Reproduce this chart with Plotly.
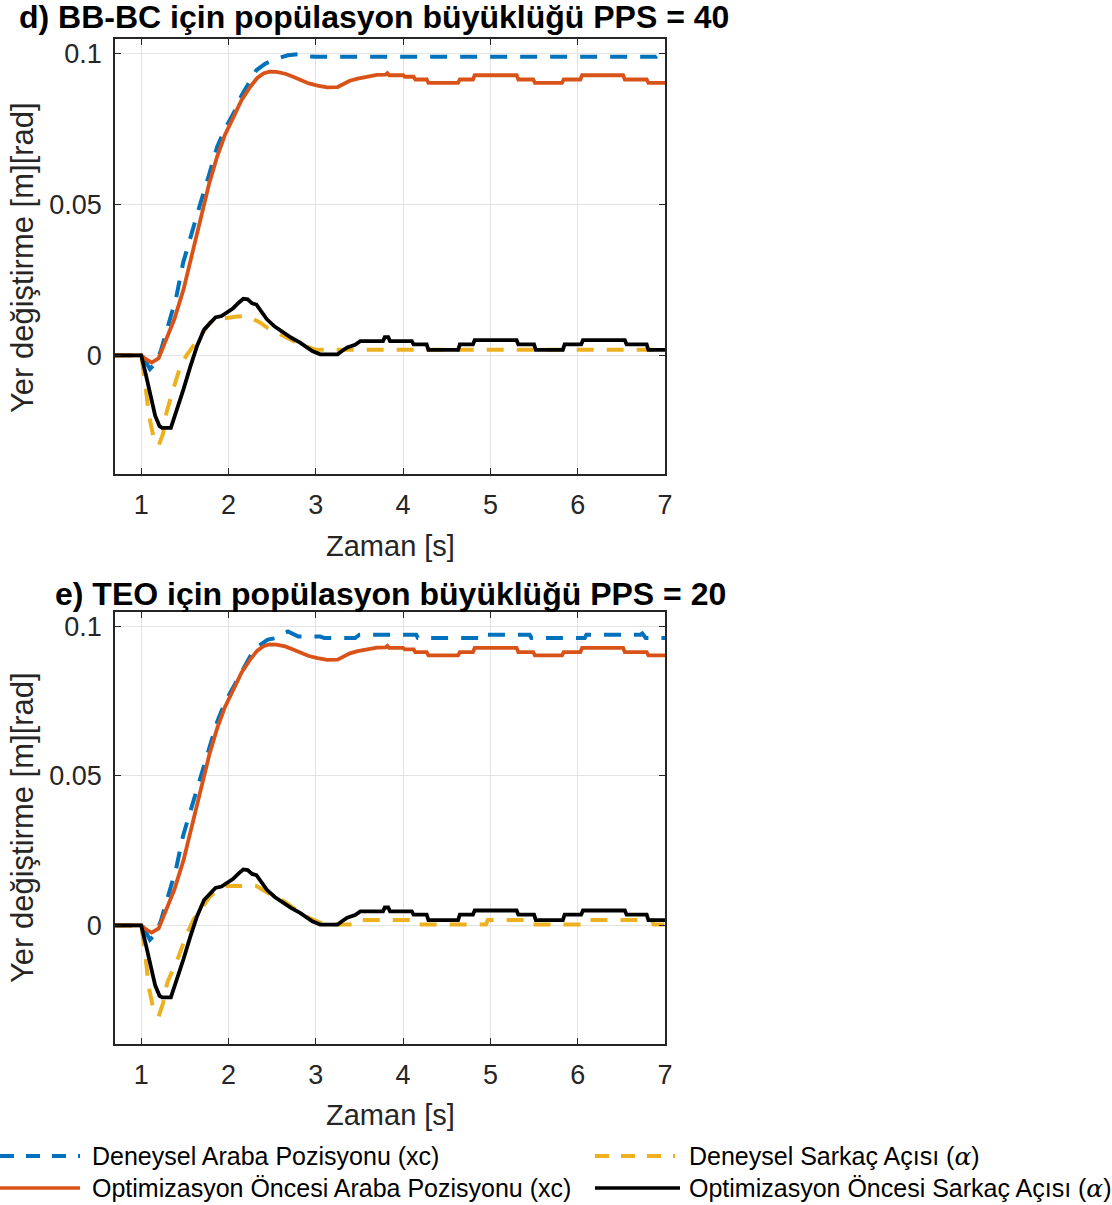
import plotly.graph_objects as go

# ---------------- data ----------------
x_ticks = [1, 2, 3, 4, 5, 6, 7]
y_ticks = [0, 0.05, 0.1]
y_tick_text = ["0", "0.05", "0.1"]

# Optimizasyon Öncesi Araba Pozisyonu (xc) - same in both panels
t_opt_cart = [0.7, 1.0, 1.05, 1.12, 1.2, 1.29, 1.38, 1.485, 1.58, 1.68, 1.78, 1.87, 1.96, 2.06, 2.15,
              2.25, 2.33, 2.40, 2.47, 2.55, 2.65, 2.74, 2.83, 2.92, 3.02, 3.13, 3.25, 3.32, 3.39, 3.48,
              3.58, 3.70, 3.80, 3.82, 3.84, 4.0, 4.02, 4.12, 4.14, 4.27, 4.29, 4.63, 4.65, 4.80, 4.82,
              5.30, 5.32, 5.49, 5.51, 5.82, 5.84, 6.03, 6.05, 6.52, 6.54, 6.79, 6.81, 7.0]
v_opt_cart = [0.0, 0.0, -0.0012, -0.0024, -0.001, 0.0053, 0.012, 0.0218, 0.033, 0.046, 0.057, 0.0658,
              0.073, 0.079, 0.0845, 0.0889, 0.0918, 0.0933, 0.0939, 0.0938, 0.0932, 0.0922, 0.0912,
              0.0900, 0.0893, 0.0887, 0.0888, 0.0898, 0.0909, 0.0916, 0.0922, 0.0928, 0.0929, 0.0934,
              0.0927, 0.0927, 0.0922, 0.0922, 0.0913, 0.0913, 0.0902, 0.0902, 0.0913, 0.0913, 0.0927,
              0.0927, 0.0913, 0.0913, 0.0902, 0.0902, 0.0913, 0.0913, 0.0927, 0.0927, 0.0913, 0.0913,
              0.0902, 0.0902]

# Optimizasyon Öncesi Sarkaç Açısı (alpha) - same in both panels
t_opt_pend = [0.7, 1.0, 1.05, 1.1, 1.16, 1.21, 1.24, 1.34, 1.40, 1.485, 1.56, 1.64, 1.72, 1.79, 1.85,
              1.92, 1.98, 2.05, 2.12, 2.17, 2.22, 2.27, 2.32, 2.38, 2.44, 2.53, 2.63, 2.72, 2.82, 2.89,
              2.96, 3.05, 3.25, 3.30, 3.36, 3.45, 3.51, 3.77, 3.79, 3.83, 3.85, 4.10, 4.12, 4.27, 4.29,
              4.63, 4.65, 4.80, 4.82, 5.30, 5.32, 5.50, 5.52, 5.83, 5.85, 6.04, 6.06, 6.54, 6.56, 6.79,
              6.81, 7.0]
v_opt_pend = [0.0, 0.0, -0.006, -0.013, -0.020, -0.0235, -0.024, -0.024, -0.019, -0.0112, -0.004,
              0.0031, 0.0085, 0.0108, 0.0125, 0.013, 0.0141, 0.0155, 0.0175, 0.0187, 0.0185, 0.0172,
              0.0168, 0.0145, 0.0119, 0.0095, 0.0075, 0.0058, 0.0042, 0.0028, 0.0014, 0.0003, 0.0003,
              0.0014, 0.0026, 0.0035, 0.0047, 0.0047, 0.0060, 0.0060, 0.0047, 0.0047, 0.0036, 0.0036,
              0.0018, 0.0018, 0.0036, 0.0036, 0.005, 0.005, 0.0036, 0.0036, 0.0018, 0.0018, 0.0036,
              0.0036, 0.005, 0.005, 0.0036, 0.0036, 0.0018, 0.0018]

# d) BB-BC : Deneysel Araba Pozisyonu (xc)
t_bbbc_cart = [0.7, 1.0, 1.05, 1.10, 1.15, 1.22, 1.30, 1.40, 1.48, 1.58, 1.68, 1.78, 1.87, 1.96, 2.06,
               2.15, 2.25, 2.32, 2.42, 2.55, 2.68, 2.82, 2.90, 3.0, 6.9, 6.95, 7.0]
v_bbbc_cart = [0.0, 0.0, -0.002, -0.0046, -0.003, 0.001, 0.009, 0.019, 0.0306, 0.041, 0.0505, 0.060,
               0.069, 0.075, 0.0802, 0.086, 0.091, 0.0944, 0.0965, 0.0982, 0.0993, 0.0997, 0.0990,
               0.0988, 0.0988, 0.0997, 0.0997]

# d) BB-BC : Deneysel Sarkaç Açısı (alpha)
t_bbbc_pend = [0.7, 1.0, 1.04, 1.09, 1.14, 1.20, 1.25, 1.29, 1.37, 1.45, 1.52, 1.60, 1.70, 1.79, 1.88,
               1.98, 2.1, 2.21, 2.28, 2.36, 2.45, 2.55, 2.65, 2.74, 2.83, 2.92, 3.0, 7.0]
v_bbbc_pend = [0.0, 0.0, -0.008, -0.020, -0.027, -0.0299, -0.026, -0.0189, -0.011, -0.0035, 0.0,
               0.0031, 0.007, 0.0109, 0.012, 0.0125, 0.0128, 0.013, 0.012, 0.0109, 0.009, 0.0076,
               0.006, 0.0047, 0.0035, 0.0026, 0.0018, 0.0018]

# e) TEO : Deneysel Araba Pozisyonu (xc)
t_teo_cart = [0.7, 1.0, 1.05, 1.10, 1.15, 1.22, 1.30, 1.40, 1.48, 1.58, 1.68, 1.78, 1.87, 1.96, 2.06,
              2.15, 2.25, 2.35, 2.45, 2.55, 2.62, 2.68, 2.74, 2.80, 3.05, 3.10, 3.45, 3.50, 4.15, 4.17,
              4.86, 4.88, 4.95, 5.45, 5.47, 6.08, 6.10, 6.72, 6.74, 6.78, 7.0]
v_teo_cart = [0.0, 0.0, -0.002, -0.0048, -0.0032, 0.001, 0.009, 0.019, 0.030, 0.040, 0.050, 0.059,
              0.068, 0.0745, 0.080, 0.085, 0.090, 0.0935, 0.0955, 0.096, 0.0975, 0.0982, 0.0975,
              0.0965, 0.0965, 0.096, 0.096, 0.0971, 0.0971, 0.096, 0.096, 0.0975, 0.0971, 0.0971,
              0.096, 0.096, 0.0971, 0.0971, 0.0975, 0.096, 0.096]

# e) TEO : Deneysel Sarkaç Açısı (alpha)
t_teo_pend = [0.7, 1.0, 1.04, 1.09, 1.14, 1.20, 1.25, 1.30, 1.36, 1.43, 1.52, 1.60, 1.70, 1.79, 1.88,
              1.98, 2.32, 2.44, 2.53, 2.63, 2.72, 2.82, 2.92, 3.0, 3.1, 3.45, 3.5, 4.15, 4.17, 4.95,
              4.97, 5.42, 5.44, 6.10, 6.12, 6.85, 6.87, 7.0]
v_teo_pend = [0.0, 0.0, -0.008, -0.021, -0.028, -0.0304, -0.026, -0.019, -0.015, -0.0103, -0.003,
              0.002, 0.006, 0.0098, 0.012, 0.0132, 0.0132, 0.0109, 0.0095, 0.0082, 0.0062, 0.0043,
              0.0025, 0.0015, 0.0003, 0.0003, 0.0018, 0.0018, 0.0003, 0.0003, 0.0018, 0.0018, 0.0003,
              0.0003, 0.0018, 0.0018, 0.0003, 0.0003]

titles = ["d) BB-BC için popülasyon büyüklüğü PPS = 40",
          "e) TEO için popülasyon büyüklüğü PPS = 20"]
x_label = "Zaman [s]"
y_label = "Yer değiştirme [m][rad]"
legend_names = ["Deneysel Araba Pozisyonu (xc)",
                "Deneysel Sarkaç Açısı (<span style=\"font-family:'DejaVu Serif'\"><i>α</i></span>)",
                "Optimizasyon Öncesi Araba Pozisyonu (xc)",
                "Optimizasyon Öncesi Sarkaç Açısı (<span style=\"font-family:'DejaVu Serif'\"><i>α</i></span>)"]

# ---------------- styling ----------------
W, H = 1112, 1205
BLUE, ORANGE, YELLOW, BLACK = "#0072BD", "#D95319", "#EDB120", "#000000"
FONT = "Liberation Sans, Arial, sans-serif"
DASH = "17px,13px"


def px(x):
    return x / W


def py(y):
    return 1 - y / H


fig = go.Figure()

panels = [
    ("x", "y", t_bbbc_cart, v_bbbc_cart, t_bbbc_pend, v_bbbc_pend),
    ("x2", "y2", t_teo_cart, v_teo_cart, t_teo_pend, v_teo_pend),
]
for xa, ya, tc, vc, tp, vp in panels:
    fig.add_trace(go.Scatter(x=tc, y=vc, mode="lines", xaxis=xa, yaxis=ya, showlegend=False,
                             line=dict(color=BLUE, width=4, dash=DASH)))
    fig.add_trace(go.Scatter(x=tp, y=vp, mode="lines", xaxis=xa, yaxis=ya, showlegend=False,
                             line=dict(color=YELLOW, width=4, dash=DASH)))
    fig.add_trace(go.Scatter(x=t_opt_cart, y=v_opt_cart, mode="lines", xaxis=xa, yaxis=ya,
                             showlegend=False, line=dict(color=ORANGE, width=3.8)))
    fig.add_trace(go.Scatter(x=t_opt_pend, y=v_opt_pend, mode="lines", xaxis=xa, yaxis=ya,
                             showlegend=False, line=dict(color=BLACK, width=3.8)))

x_dom = [px(115), px(665)]
axis_common = dict(showline=True, linecolor="#262626", linewidth=1.5, mirror="ticks",
                   ticks="inside", ticklen=6, tickcolor="#262626", tickwidth=1.2,
                   showgrid=True, gridcolor="#E3E3E3", gridwidth=1.2, zeroline=False,
                   tickfont=dict(family=FONT, size=27, color="#262626"), automargin=False)

fig.update_layout(
    width=W, height=H, margin=dict(l=0, r=0, t=0, b=0),
    paper_bgcolor="white", plot_bgcolor="white", showlegend=False,
    xaxis=dict(domain=x_dom, anchor="y", range=[0.7, 7.0], tickvals=x_ticks,
               ticklabelstandoff=6, **axis_common),
    yaxis=dict(domain=[py(474), py(39)], anchor="x", range=[-0.0393, 0.1047], tickvals=y_ticks,
               ticktext=y_tick_text, ticklabelstandoff=6, **axis_common),
    xaxis2=dict(domain=x_dom, anchor="y2", range=[0.7, 7.0], tickvals=x_ticks,
                ticklabelstandoff=6, **axis_common),
    yaxis2=dict(domain=[py(1044), py(612)], anchor="x2", range=[-0.0396, 0.1047], tickvals=y_ticks,
                ticktext=y_tick_text, ticklabelstandoff=6, **axis_common),
)

ann = []
# titles
ann.append(dict(text="<b>" + titles[0] + "</b>", x=px(374), y=py(17)))
ann.append(dict(text="<b>" + titles[1] + "</b>", x=px(390), y=py(594)))
for a in ann:
    a.update(xref="paper", yref="paper", showarrow=False, xanchor="center", yanchor="middle",
             font=dict(family=FONT, size=32, color="black"))
# axis labels
for yc in (546, 1115):
    ann.append(dict(text=x_label, x=px(390), y=py(yc), xref="paper", yref="paper", showarrow=False,
                    xanchor="center", yanchor="middle", font=dict(family=FONT, size=29, color="#262626")))
for yc in (258, 828):
    ann.append(dict(text=y_label, x=px(22), y=py(yc), xref="paper", yref="paper", showarrow=False,
                    textangle=-90, xanchor="center", yanchor="middle",
                    font=dict(family=FONT, size=31, color="#262626")))

# legend (2 x 2)
leg_items = [
    (legend_names[0], BLUE, "dash", 0, 80, 90, 1156),
    (legend_names[1], YELLOW, "dash", 595, 675, 687, 1156),
    (legend_names[2], ORANGE, "solid", 0, 80, 90, 1188),
    (legend_names[3], BLACK, "solid", 595, 680, 687, 1188),
]
shapes = []
for name, col, ds, x0, x1, xt, yc in leg_items:
    shapes.append(dict(type="line", xref="paper", yref="paper", x0=px(x0), x1=px(x1),
                       y0=py(yc), y1=py(yc),
                       line=dict(color=col, width=4 if ds == "dash" else 3.5,
                                 dash="14px,12px" if ds == "dash" else "solid")))
    ann.append(dict(text=name, x=px(xt), y=py(yc), xref="paper", yref="paper", showarrow=False,
                    xanchor="left", yanchor="middle", font=dict(family=FONT, size=25, color="black")))

fig.update_layout(annotations=ann, shapes=shapes)
fig.write_html("out.html")
